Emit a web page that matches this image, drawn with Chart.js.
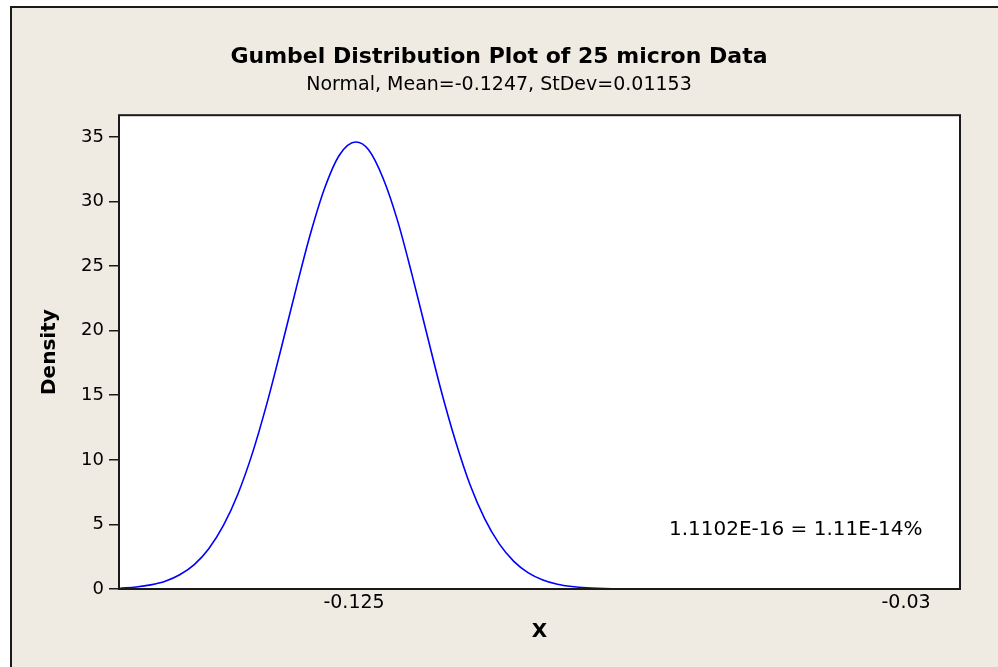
<!DOCTYPE html>
<html>
<head>
<meta charset="utf-8">
<script src="https://cdn.jsdelivr.net/npm/chart.js@4.4.1/dist/chart.umd.min.js"></script>
<style>
  html, body { margin: 0; padding: 0; background: #fff; }
  #wrap { width: 998px; height: 667px; }
</style>
</head>
<body>
<div id="wrap"><canvas id="densityChart" width="998" height="667"></canvas></div>
<script>
// values
const xValues = [-0.1652, -0.1625, -0.160, -0.1575, -0.155, -0.1525, -0.150, -0.1475, -0.145,
  -0.1425, -0.140, -0.1375, -0.135, -0.1325, -0.130, -0.1275, -0.1247, -0.1225, -0.120,
  -0.1175, -0.115, -0.1125, -0.110, -0.1075, -0.105, -0.1025, -0.100, -0.0975, -0.095,
  -0.0925, -0.090, -0.0875, -0.085, -0.080, -0.075, -0.070, -0.0587];
const densityValues = [0.07, 0.16, 0.32, 0.60, 1.10, 1.89, 3.12, 4.90, 7.34,
  10.5, 14.35, 18.7, 23.2, 27.5, 31.1, 33.6, 34.6, 34.0, 31.8,
  28.5, 24.3, 19.8, 15.35, 11.4, 8.03, 5.43, 3.49, 2.14, 1.25,
  0.70, 0.37, 0.19, 0.09, 0.02, 0.003, 0, 0];

const xTickValues = [-0.125, -0.03];
const xTickLabels = ['-0.125', '-0.03'];
const yTickValues = [0, 5, 10, 15, 20, 25, 30, 35];

const xRange = [-0.16545, -0.02071];
const yRange = [0, 36.68];

const noteText = '1.1102E-16 = 1.11E-14%';
const notePos = { x: -0.0708, y: 4.57 };

const pageBg = {
  id: 'pageBg',
  beforeDraw(chart) {
    const { ctx, width, height, chartArea: a } = chart;
    ctx.save();
    ctx.fillStyle = '#ffffff';
    ctx.fillRect(0, 0, width, height);
    ctx.fillStyle = '#efebe2';
    ctx.fillRect(11, 7, width - 11, height - 7);
    ctx.strokeStyle = '#1a1a1a';
    ctx.lineWidth = 2;
    ctx.beginPath();
    ctx.moveTo(11, height);
    ctx.lineTo(11, 7);
    ctx.lineTo(width, 7);
    ctx.stroke();
    ctx.fillStyle = '#ffffff';
    ctx.fillRect(a.left, a.top, a.right - a.left, a.bottom - a.top);
    ctx.restore();
  },
  afterDraw(chart) {
    const { ctx, chartArea: a, scales } = chart;
    ctx.save();
    ctx.strokeStyle = '#1a1a1a';
    ctx.lineWidth = 2;
    ctx.strokeRect(a.left, a.top, a.right - a.left, a.bottom - a.top);
    ctx.fillStyle = '#000';
    ctx.font = '20px "DejaVu Sans"';
    ctx.textBaseline = 'middle';
    ctx.textAlign = 'left';
    ctx.fillText(noteText, scales.x.getPixelForValue(notePos.x), scales.y.getPixelForValue(notePos.y));
    ctx.restore();
  }
};

new Chart(document.getElementById('densityChart'), {
  type: 'line',
  data: {
    datasets: [{
      data: xValues.map((x, i) => ({ x: x, y: densityValues[i] })),
      borderColor: '#0000ff',
      borderWidth: 1.6,
      pointRadius: 0,
      fill: false,
      cubicInterpolationMode: 'monotone'
    }]
  },
  options: {
    responsive: false,
    animation: false,
    layout: { padding: 0 },
    plugins: {
      legend: { display: false },
      tooltip: { enabled: false },
      title: {
        display: true,
        text: 'Gumbel Distribution Plot of 25 micron Data',
        color: '#000',
        font: { family: 'DejaVu Sans', size: 22, weight: 'bold', lineHeight: 1.2 },
        padding: { top: 44, bottom: 2 }
      },
      subtitle: {
        display: true,
        text: 'Normal, Mean=-0.1247, StDev=0.01153',
        color: '#000',
        font: { family: 'DejaVu Sans', size: 19, lineHeight: 1.2 },
        padding: { top: 1, bottom: 19 }
      }
    },
    scales: {
      x: {
        type: 'linear',
        min: xRange[0],
        max: xRange[1],
        afterBuildTicks(s) { s.ticks = xTickValues.map(v => ({ value: v })); },
        afterFit(s) { s.height = 78; },
        grid: { display: false, drawTicks: false },
        border: { display: false },
        ticks: {
          color: '#000',
          font: { family: 'DejaVu Sans', size: 19 },
          padding: 3,
          maxRotation: 0,
          callback: (v) => xTickLabels[xTickValues.indexOf(v)]
        },
        title: {
          display: true,
          text: 'X',
          color: '#000',
          font: { family: 'DejaVu Sans', size: 20, weight: 'bold', lineHeight: 1.2 },
          padding: { top: 0, bottom: 23 }
        }
      },
      y: {
        min: yRange[0],
        max: yRange[1],
        afterBuildTicks(s) { s.ticks = yTickValues.map(v => ({ value: v })); },
        afterFit(s) { s.width = 119; },
        grid: { drawOnChartArea: false, drawTicks: true, tickLength: 10, color: '#1a1a1a', lineWidth: 1.5 },
        border: { display: false },
        ticks: {
          color: '#000',
          font: { family: 'DejaVu Sans', size: 18 },
          padding: 5
        },
        title: {
          display: true,
          text: 'Density',
          color: '#000',
          font: { family: 'DejaVu Sans', size: 20, weight: 'bold', lineHeight: 1.2 },
          padding: { top: 38, bottom: 0 }
        }
      },
      y2: {
        position: 'right',
        grid: { display: false },
        border: { display: false },
        ticks: { display: false },
        afterFit(s) { s.width = 38; }
      }
    }
  },
  plugins: [pageBg]
});
</script>
</body>
</html>
